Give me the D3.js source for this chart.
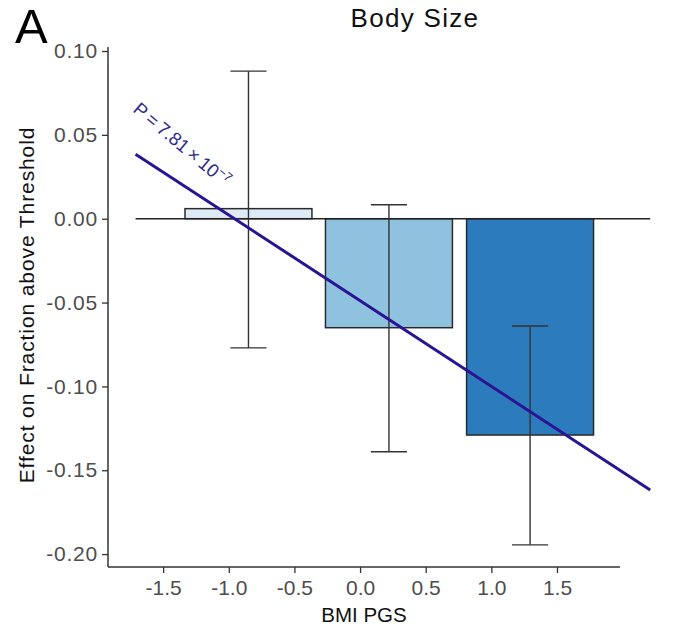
<!DOCTYPE html>
<html><head><meta charset="utf-8">
<script src="https://cdn.jsdelivr.net/npm/d3@7"></script>
<style>
body{margin:0;background:#fff;}
text{font-family:"Liberation Sans",Arial,sans-serif;}
</style></head>
<body><svg id="c" width="681" height="630"></svg>
<script>
// data
const categories = ["Low", "Middle", "High"];
const barCenters = [-0.85, 0.22, 1.295];
const barValues = [0.006, -0.065, -0.129];
const errLow = [-0.077, -0.139, -0.1945];
const errHigh = [0.088, 0.0083, -0.064];
const fitX = [-1.71, 2.21];
const fitY = [0.0385, -0.1618];
const xTicks = [-1.5, -1.0, -0.5, 0.0, 0.5, 1.0, 1.5];
const yTicks = [0.10, 0.05, 0.00, -0.05, -0.10, -0.15, -0.20];
const barColors = ["#deebf7", "#8fc2df", "#2c7bbd"];
const pLabel = "P\u2009=\u20097.81\u2009×\u200910";
const pExp = "−7";

const barWidth = 0.967, capWidth = 0.275;
const svg = d3.select("#c");
const x = d3.scaleLinear().domain([-1.92, 1.98]).range([108, 620]);
const y = d3.scaleLinear().domain([-0.2077, 0.1024]).range([567, 47]);

// title, panel letter
svg.append("text").attr("x", 415).attr("y", 27).attr("text-anchor", "middle")
  .attr("font-size", 26).attr("letter-spacing", 1.3).attr("fill", "#111").text("Body Size");
svg.append("text").attr("x", 15).attr("y", 43).attr("font-size", 49).attr("fill", "#000").text("A");

// bars
const data = categories.map((c, i) => ({c, xc: barCenters[i], v: barValues[i], lo: errLow[i], hi: errHigh[i], col: barColors[i]}));
svg.append("g").selectAll("rect").data(data).join("rect")
  .attr("x", d => x(d.xc - barWidth / 2))
  .attr("width", d => x(d.xc + barWidth / 2) - x(d.xc - barWidth / 2))
  .attr("y", d => y(Math.max(0, d.v)))
  .attr("height", d => Math.abs(y(d.v) - y(0)))
  .attr("fill", d => d.col).attr("stroke", "#2a2a2a").attr("stroke-width", 1.5);

// zero line
svg.append("line").attr("x1", x(fitX[0])).attr("x2", x(fitX[1])).attr("y1", y(0)).attr("y2", y(0))
  .attr("stroke", "#222").attr("stroke-width", 1.5);

// error bars
const eb = svg.append("g").attr("stroke", "#333").attr("stroke-width", 1.4).attr("fill", "none");
data.forEach(d => {
  eb.append("line").attr("x1", x(d.xc)).attr("x2", x(d.xc)).attr("y1", y(d.hi)).attr("y2", y(d.lo));
  eb.append("line").attr("x1", x(d.xc - capWidth / 2)).attr("x2", x(d.xc + capWidth / 2)).attr("y1", y(d.hi)).attr("y2", y(d.hi));
  eb.append("line").attr("x1", x(d.xc - capWidth / 2)).attr("x2", x(d.xc + capWidth / 2)).attr("y1", y(d.lo)).attr("y2", y(d.lo));
});

// regression line
svg.append("path").datum(fitX.map((v, i) => [v, fitY[i]]))
  .attr("d", d3.line().x(d => x(d[0])).y(d => y(d[1])))
  .attr("stroke", "#2a1493").attr("stroke-width", 3).attr("fill", "none");

// p label
const pt = svg.append("text").attr("transform", "translate(132,111) rotate(40)")
  .attr("font-size", 18.5).attr("fill", "#2e2a8c");
pt.append("tspan").text(pLabel);
pt.append("tspan").attr("dy", -7).attr("font-size", 12.5).text(pExp);

// axes
const yAxis = svg.append("g").attr("transform", "translate(108,0)")
  .call(d3.axisLeft(y).tickValues(yTicks).tickSize(6).tickPadding(4).tickFormat(d3.format(".2f")));
const xAxis = svg.append("g").attr("transform", "translate(0,567)")
  .call(d3.axisBottom(x).tickValues(xTicks).tickSize(6).tickPadding(7).tickFormat(d3.format(".1f")));
[yAxis, xAxis].forEach(a => {
  a.selectAll(".tick line").attr("stroke", "#333").attr("stroke-width", 1.3);
  a.selectAll(".tick text").attr("font-size", 21).attr("fill", "#4d4d4d")
    .attr("font-family", "'Liberation Sans',Arial,sans-serif")
    .text(function () { return d3.select(this).text().replace("−", "-"); });
});
yAxis.selectAll(".tick text").attr("letter-spacing", 0.8);
yAxis.select(".domain").remove();
xAxis.select(".domain").remove();
svg.append("line").attr("x1", 108).attr("x2", 108).attr("y1", y.range()[1]).attr("y2", y.range()[0])
  .attr("stroke", "#333").attr("stroke-width", 1.5);
svg.append("line").attr("x1", x.range()[0]).attr("x2", x.range()[1]).attr("y1", 567).attr("y2", 567)
  .attr("stroke", "#333").attr("stroke-width", 1.5);

// axis titles
svg.append("text").attr("x", 364).attr("y", 622).attr("text-anchor", "middle")
  .attr("font-size", 20.5).attr("fill", "#111").text("BMI PGS");
svg.append("text").attr("transform", "translate(34,305) rotate(-90)").attr("text-anchor", "middle")
  .attr("font-size", 21).attr("letter-spacing", 0.9).attr("fill", "#111").text("Effect on Fraction above Threshold");
</script></body></html>
